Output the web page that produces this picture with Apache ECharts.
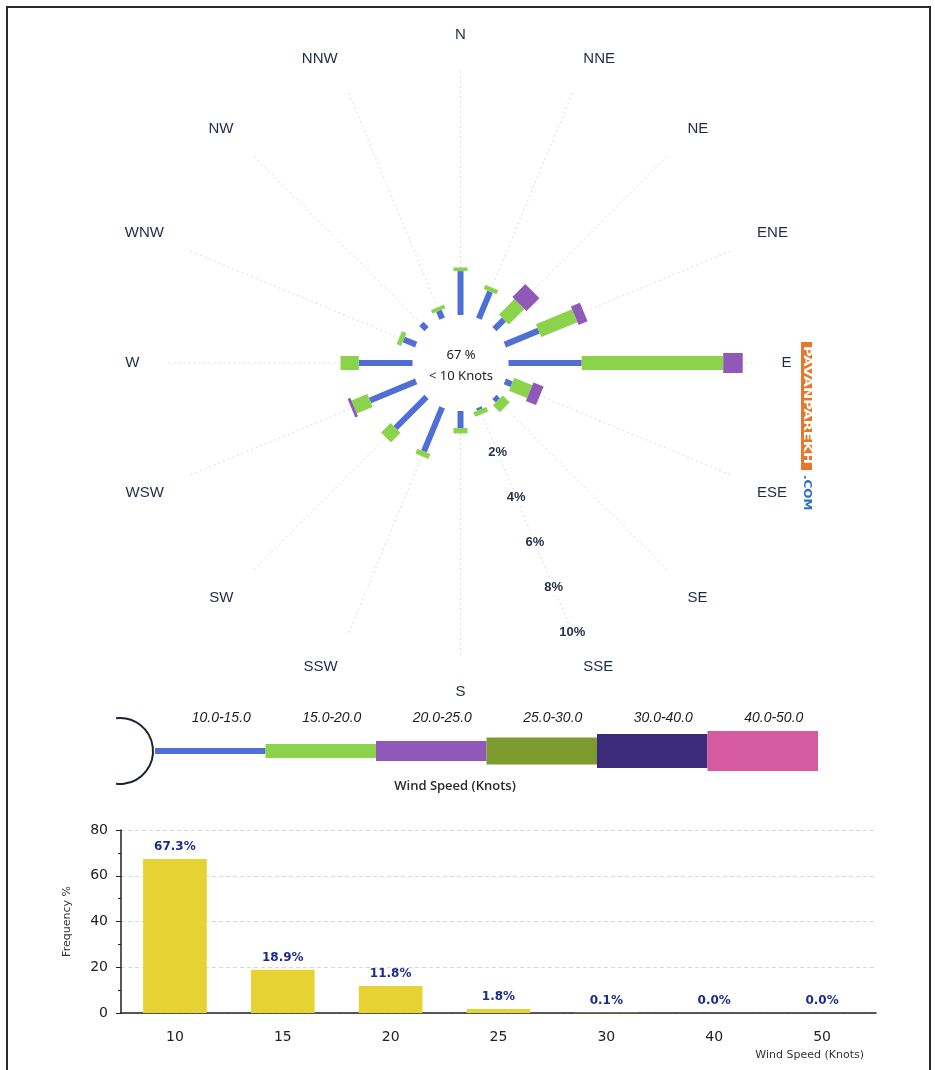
<!DOCTYPE html>
<html>
<head>
<meta charset="utf-8">
<script src="https://cdn.jsdelivr.net/npm/echarts@6/dist/echarts.min.js"></script>
<style>
  html, body { margin: 0; padding: 0; background: #ffffff; }
  #chart { width: 935px; height: 1070px; }
</style>
</head>
<body>
<div id="chart"></div>
<script>
// Compass directions, clockwise from north
const directions = ['N', 'NNE', 'NE', 'ENE', 'E', 'ESE', 'SE', 'SSE', 'S', 'SSW', 'SW', 'WSW', 'W', 'WNW', 'NW', 'NNW'];

// Frequency (%) of wind per direction, for each speed band
const band10to15 = [1.8, 1.2, 0.55, 1.5, 3.0, 0.3, 0.2, 0.1, 0.7, 1.95, 1.8, 2.05, 2.2, 0.55, 0.3, 0.35];
const band15to20 = [0.15, 0.18, 0.9, 1.6, 5.8, 0.8, 0.4, 0.2, 0.22, 0.22, 0.55, 0.7, 0.75, 0.2, 0, 0.15];
const band20to25 = [0, 0, 0.75, 0.4, 0.8, 0.45, 0, 0, 0, 0, 0, 0.12, 0, 0, 0, 0];

// Speed band legend
const bandLabels = ['10.0-15.0', '15.0-20.0', '20.0-25.0', '25.0-30.0', '30.0-40.0', '40.0-50.0'];
const bandColors = ['#4f6fd6', '#8cd34c', '#9058b8', '#7e9b2f', '#3c2a7a', '#d65a9f'];
const bandWidths = [6, 14, 20, 27, 34, 40];

// Overall frequency by speed class (upper bound, knots)
const speedClasses = ['10', '15', '20', '25', '30', '40', '50'];
const speedFrequency = [67.3, 18.9, 11.8, 1.8, 0.1, 0.0, 0.0];

// Radius scale of the rose (percent)
const roseMax = 10;
const roseStep = 2;

const roseBands = [band10to15, band15to20, band20to25];

const chart = echarts.init(document.getElementById('chart'));

function roseSeries(bandIndex) {
  const values = roseBands[bandIndex];
  const data = directions.map((d, i) => {
    let base = 0;
    for (let k = 0; k < bandIndex; k++) base += roseBands[k][i];
    return [i, base, base + values[i]];
  });
  const color = bandColors[bandIndex];
  const width = bandWidths[bandIndex];
  return {
    type: 'custom',
    name: bandLabels[bandIndex],
    coordinateSystem: 'polar',
    polarIndex: 0,
    encode: { angle: 0, radius: 2 },
    data: data,
    silent: true,
    renderItem: function (params, api) {
      const idx = api.value(0);
      const r0 = api.value(1);
      const r1 = api.value(2);
      if (!(r1 - r0 > 0)) return null;
      const a = api.coord([r0, idx]);
      const b = api.coord([r1, idx]);
      const o = api.coord([0, idx]);
      const f = api.coord([roseMax, idx]);
      let dx = f[0] - o[0], dy = f[1] - o[1];
      const len = Math.hypot(dx, dy);
      dx /= len; dy /= len;
      const nx = -dy * width / 2, ny = dx * width / 2;
      return {
        type: 'polygon',
        shape: {
          points: [
            [a[0] + nx, a[1] + ny], [b[0] + nx, b[1] + ny],
            [b[0] - nx, b[1] - ny], [a[0] - nx, a[1] - ny]
          ]
        },
        style: { fill: color }
      };
    }
  };
}

// Legend strip under the rose
const legendLeft = 155, legendSeg = 110.5, legendMid = 751;
const legendGraphics = [];
legendGraphics.push({
  type: 'arc',
  shape: { cx: 120, cy: legendMid, r: 33, startAngle: -Math.PI / 2 - 0.12, endAngle: Math.PI / 2 + 0.12 },
  style: { stroke: '#1d2236', lineWidth: 2, fill: null }
});
bandLabels.forEach((lab, i) => {
  legendGraphics.push({
    type: 'rect',
    shape: { x: legendLeft + i * legendSeg, y: legendMid - bandWidths[i] / 2, width: legendSeg, height: bandWidths[i] },
    style: { fill: bandColors[i] }
  });
  legendGraphics.push({
    type: 'text',
    x: legendLeft + i * legendSeg + legendSeg / 2 + 11,
    y: 718,
    style: {
      text: lab, fill: '#1e1e1e', font: 'italic 14px "Liberation Sans", Arial, sans-serif',
      align: 'center', verticalAlign: 'middle'
    }
  });
});
legendGraphics.push({
  type: 'text', x: 455, y: 786,
  style: { text: 'Wind Speed (Knots)', fill: '#2a2a2a', font: '600 13px "Open Sans", sans-serif', align: 'center', verticalAlign: 'middle' }
});

const option = {
  backgroundColor: '#ffffff',
  animation: false,
  polar: [
    { center: [460.5, 363], radius: [48, 292] },
    { center: [460.5, 363], radius: [48, 292] }
  ],
  angleAxis: [
    {
      polarIndex: 0,
      type: 'category',
      data: directions,
      boundaryGap: false,
      startAngle: 90,
      clockwise: true,
      axisLine: { show: false },
      axisTick: { show: false },
      axisLabel: {
        interval: 0, margin: 29,
        color: '#1f2c47', fontSize: 15, fontFamily: '"Liberation Sans", Arial, sans-serif'
      },
      splitLine: { show: true, lineStyle: { color: '#dcdcdc', width: 1, type: [2, 3] } }
    },
    {
      polarIndex: 1,
      type: 'value',
      min: 0, max: 360,
      startAngle: -67.5,
      show: false
    }
  ],
  radiusAxis: [
    {
      polarIndex: 0,
      type: 'value',
      min: 0, max: roseMax,
      show: false
    },
    {
      polarIndex: 1,
      type: 'value',
      min: 0, max: roseMax, interval: roseStep,
      axisLine: { show: false },
      axisTick: { show: false },
      splitLine: { show: false },
      z: 5,
      axisLabel: {
        showMinLabel: false,
        formatter: '{value}%',
        margin: 0,
        align: 'center',
        verticalAlign: 'middle',
        backgroundColor: '#ffffff',
        padding: [1, 2],
        color: '#283248',
        fontWeight: 'bold',
        fontSize: 13,
        fontFamily: '"Liberation Sans", Arial, sans-serif'
      }
    }
  ],
  grid: { left: 121, right: 59, top: 830, height: 183, containLabel: false },
  xAxis: {
    type: 'category',
    data: speedClasses,
    axisLine: { lineStyle: { color: '#222', width: 1.5 } },
    axisTick: { inside: true, length: 6, lineStyle: { color: '#222', width: 1.5 } },
    axisLabel: { color: '#222', fontSize: 14, margin: 17, fontFamily: '"DejaVu Sans", Verdana, sans-serif' }
  },
  yAxis: {
    type: 'value',
    min: 0, max: 80, interval: 20,
    name: 'Frequency %',
    nameLocation: 'middle',
    nameGap: 48,
    nameTextStyle: { color: '#333', fontSize: 11, fontFamily: '"DejaVu Sans", Verdana, sans-serif' },
    axisLine: { show: true, lineStyle: { color: '#222', width: 1.5 } },
    axisTick: { show: true, length: 5, lineStyle: { color: '#222' } },
    minorTick: { show: true, splitNumber: 2, length: 3, lineStyle: { color: '#222' } },
    axisLabel: { color: '#222', fontSize: 14, margin: 13, fontFamily: '"DejaVu Sans", Verdana, sans-serif' },
    splitLine: { show: true, lineStyle: { color: '#d8d8d8', type: [4, 3] } }
  },
  series: [
    roseSeries(0),
    roseSeries(1),
    roseSeries(2),
    {
      type: 'bar',
      xAxisIndex: 0,
      yAxisIndex: 0,
      data: speedFrequency,
      barCategoryGap: '41%',
      itemStyle: { color: '#e6d232' },
      label: {
        show: true,
        position: 'top',
        distance: 6,
        color: '#1c2c8c',
        fontWeight: 'bold',
        fontSize: 12,
        fontFamily: '"DejaVu Sans", Verdana, sans-serif',
        formatter: p => p.value.toFixed(1) + '%'
      },
      silent: true
    }
  ],
  graphic: [
    // outer frame
    {
      type: 'rect', z: 100,
      shape: { x: 7, y: 7, width: 923, height: 1080 },
      style: { fill: null, stroke: '#2a2a2a', lineWidth: 2 }
    },
    // calm percentage at the centre of the rose
    {
      type: 'text', x: 461, y: 355,
      style: { text: Math.round(speedFrequency[0]) + ' %', fill: '#1e1e1e', font: '13px "Noto Sans", sans-serif', align: 'center', verticalAlign: 'middle' }
    },
    {
      type: 'text', x: 461, y: 376,
      style: { text: '< ' + speedClasses[0] + ' Knots', fill: '#1e1e1e', font: '13px "Noto Sans", sans-serif', align: 'center', verticalAlign: 'middle' }
    },
    // site mark
    {
      type: 'rect', shape: { x: 801, y: 342, width: 11, height: 128 },
      style: { fill: '#e8762c' }
    },
    {
      type: 'text', x: 806.5, y: 346, rotation: -Math.PI / 2, scaleX: 1.45,
      style: { text: 'PAVANPAREKH', fill: '#ffffff', font: 'bold 10px "DejaVu Sans", sans-serif', align: 'left', verticalAlign: 'middle' }
    },
    {
      type: 'text', x: 806.5, y: 475, rotation: -Math.PI / 2, scaleX: 1.2,
      style: { text: '.COM', fill: '#2f6fc8', font: 'bold 10px "DejaVu Sans", sans-serif', align: 'left', verticalAlign: 'middle' }
    },
    // bar chart x-axis title
    {
      type: 'text', x: 864, y: 1055,
      style: { text: 'Wind Speed (Knots)', fill: '#333', font: '11px "DejaVu Sans", Verdana, sans-serif', align: 'right', verticalAlign: 'middle' }
    }
  ].concat(legendGraphics)
};

chart.setOption(option);
</script>
</body>
</html>
